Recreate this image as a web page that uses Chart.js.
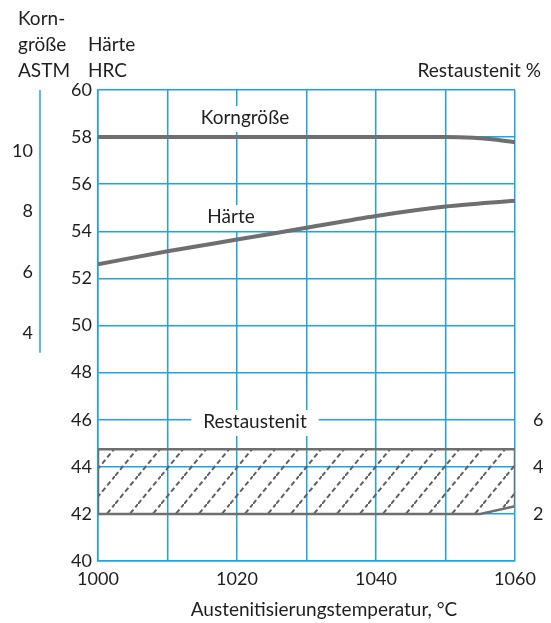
<!DOCTYPE html>
<html>
<head>
<meta charset="utf-8">
<script src="https://cdn.jsdelivr.net/npm/chart.js@4"></script>
<style>
  html, body { margin: 0; padding: 0; background: #fff; }
  #wrap { width: 551px; height: 623px; position: relative; }
</style>
</head>
<body>
<div id="wrap"><canvas id="myChart" width="551" height="623"></canvas></div>
<script>
// temperature axis (°C)
const xTicks = [1000, 1010, 1020, 1030, 1040, 1050, 1060];
const xLabelled = [1000, 1020, 1040, 1060];

// left scales
const hrcTicks = [40, 42, 44, 46, 48, 50, 52, 54, 56, 58, 60];
const astmTicks = [4, 6, 8, 10];
// right scale
const restTicks = [2, 4, 6];

// Korngröße (on HRC scale)
const kornTemp = [1000, 1050, 1054, 1057, 1060];
const kornVals = [58, 58, 57.97, 57.9, 57.78];

// Härte HRC
const haerteTemp = [1000, 1010, 1020, 1030, 1040, 1050, 1060];
const haerteVals = [52.6, 53.15, 53.65, 54.15, 54.65, 55.05, 55.3];

// Restaustenit % band (upper and lower boundary)
const restTemp = [1000, 1055, 1060];
const restUpper = [4.75, 4.75, 4.75];
const restLower = [2, 2, 2.33];

const blue = "#1ea4e2";
const grey = "#6f6f6f";
const font = "Lato, 'Open Sans', sans-serif";

function hatch() {
	const c = document.createElement("canvas");
	c.width = 23;
	c.height = 28;
	const g = c.getContext("2d");
	g.strokeStyle = "#5f5f5f";
	g.lineWidth = 2;
	g.setLineDash([5, 3]);
	g.beginPath();
	g.moveTo(0, 28);
	g.lineTo(23, 0);
	g.stroke();
	return g.createPattern(c, "repeat");
}

// closed outline of the band: lower boundary, up the right edge, upper boundary back, down the left edge
const restShape = [];
restTemp.forEach((t, i) => restShape.push({ x: t, y: restLower[i] }));
for (let i = restTemp.length - 1; i >= 0; i--) restShape.push({ x: restTemp[i], y: restUpper[i] });
restShape.push({ x: restTemp[0], y: restLower[0] });

const textPlugin = {
	id: "texts",
	afterDraw(chart) {
		const ctx = chart.ctx;
		const a = chart.scales.yAstm;
		ctx.save();
		// short ASTM axis line
		ctx.strokeStyle = blue;
		ctx.lineWidth = 1.5;
		ctx.beginPath();
		ctx.moveTo(40, a.getPixelForValue(12));
		ctx.lineTo(40, a.getPixelForValue(3.35));
		ctx.stroke();

		ctx.font = "19px " + font;
		ctx.fillStyle = "#1e1e1e";
		ctx.textBaseline = "alphabetic";

		// labels with white background inside the plot
		const labels = [
			["Korngröße", 245, 124],
			["Härte", 231, 223],
			["Restaustenit", 255, 428],
		];
		labels.forEach(([t, x, y]) => {
			const w = ctx.measureText(t).width;
			ctx.fillStyle = "#fff";
			ctx.fillRect(x - w / 2 - 12, y - 18, w + 24, 26);
			ctx.fillStyle = "#1e1e1e";
			ctx.textAlign = "center";
			ctx.fillText(t, x, y);
		});

		ctx.textAlign = "left";
		ctx.fillText("Korn-", 18, 25);
		ctx.fillText("größe", 18, 51);
		ctx.fillText("ASTM", 18, 77);
		ctx.fillText("Härte", 88, 51);
		ctx.fillText("HRC", 88, 77);
		ctx.textAlign = "right";
		ctx.fillText("Restaustenit %", 541, 77);
		ctx.textAlign = "center";
		ctx.fillText("Austenitisierungstemperatur, °C", 324, 616);
		ctx.restore();
	},
};

const ctx = document.getElementById("myChart").getContext("2d");
const myChart = new Chart(ctx, {
	type: "line",
	data: {
		datasets: [
			{
				label: "Korngröße",
				data: kornTemp.map((t, i) => ({ x: t, y: kornVals[i] })),
				yAxisID: "y",
				borderColor: grey,
				borderWidth: 4,
				pointRadius: 0,
				cubicInterpolationMode: "monotone",
				fill: false,
			},
			{
				label: "Härte",
				data: haerteTemp.map((t, i) => ({ x: t, y: haerteVals[i] })),
				yAxisID: "y",
				borderColor: grey,
				borderWidth: 4,
				pointRadius: 0,
				cubicInterpolationMode: "monotone",
				fill: false,
			},
			{
				label: "Restaustenit",
				data: restShape,
				yAxisID: "yRest",
				borderColor: grey,
				borderWidth: 2.5,
				pointRadius: 0,
				tension: 0,
				backgroundColor: hatch(),
				fill: "shape",
			},
		],
	},
	options: {
		responsive: false,
		animation: false,
		layout: { padding: { top: 90, left: 0, right: 0, bottom: 0 } },
		plugins: { legend: { display: false }, tooltip: { enabled: false } },
		scales: {
			x: {
				type: "linear",
				min: 1000,
				max: 1060,
				afterBuildTicks: (s) => { s.ticks = xTicks.map((v) => ({ value: v })); },
				afterFit: (s) => { s.height = 62; },
				grid: { color: blue, lineWidth: 1.5, drawTicks: false },
				border: { color: blue, width: 1.5 },
				ticks: {
					padding: 7,
					maxRotation: 0,
					autoSkip: false,
					color: "#1e1e1e",
					font: { family: font, size: 18 },
					callback: (v) => (xLabelled.includes(v) ? String(v) : ""),
				},
			},
			y: {
				position: "left",
				weight: 0,
				min: 40,
				max: 60,
				afterBuildTicks: (s) => { s.ticks = hrcTicks.map((v) => ({ value: v })); },
				afterFit: (s) => { s.width = 58; },
				grid: { color: blue, lineWidth: 1.5, drawTicks: false },
				border: { color: blue, width: 1.5 },
				ticks: { padding: 6, color: "#1e1e1e", font: { family: font, size: 18 } },
			},
			yAstm: {
				position: "left",
				weight: 1,
				min: -3.5,
				max: 12,
				afterBuildTicks: (s) => { s.ticks = astmTicks.map((v) => ({ value: v })); },
				afterFit: (s) => { s.width = 40; },
				grid: { display: false, drawTicks: false },
				border: { display: false },
				ticks: { padding: 7, color: "#1e1e1e", font: { family: font, size: 18 } },
			},
			yRest: {
				position: "right",
				min: 0,
				max: 20,
				afterBuildTicks: (s) => { s.ticks = restTicks.map((v) => ({ value: v })); },
				afterFit: (s) => { s.width = 36; },
				grid: { display: false, drawTicks: false },
				border: { display: false },
				ticks: { padding: 18, color: "#1e1e1e", font: { family: font, size: 18 } },
			},
		},
	},
	plugins: [textPlugin],
});
</script>
</body>
</html>
